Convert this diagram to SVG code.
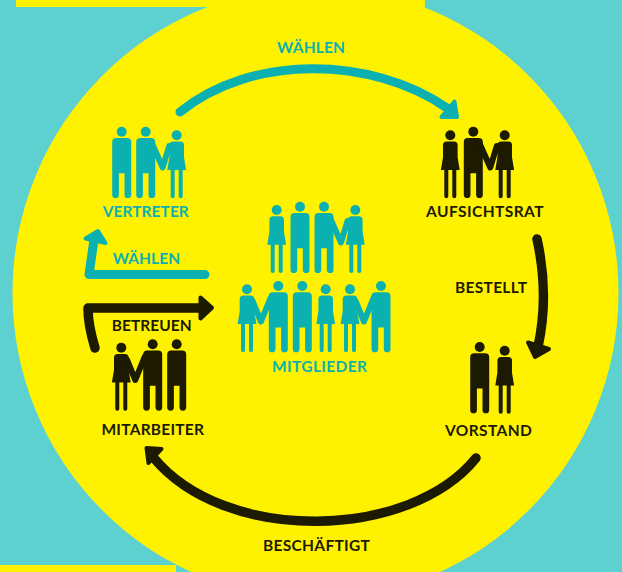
<svg xmlns="http://www.w3.org/2000/svg" xmlns:xlink="http://www.w3.org/1999/xlink" width="622" height="572" viewBox="0 0 622 572">
<style>
.t{fill:#0bb1b1}.d{fill:#1c1a00}
text{font-family:"Lato","Liberation Sans",sans-serif;font-weight:700;font-size:15.5px;text-anchor:middle}
.ct{fill:none;stroke:#0bb1b1;stroke-width:9;stroke-linecap:round;stroke-linejoin:round}
.cd{fill:none;stroke:#1c1a00;stroke-width:9.500;stroke-linecap:round;stroke-linejoin:round}
.ht{fill:#0bb1b1;stroke:#0bb1b1;stroke-width:4;stroke-linejoin:round}
.hd{fill:#1c1a00;stroke:#1c1a00;stroke-width:4;stroke-linejoin:round}
</style>
<defs>
<g id="man"><circle cx="0" cy="0" r="5"/><path d="M-9.500 10.300a4 4 0 0 1 4-4h11a4 4 0 0 1 4 4V63a3.350 3.350 0 0 1-6.700 0V41.500h-5.600V63a3.350 3.350 0 0 1-6.700 0Z"/></g>
<g id="woman"><circle cx="0" cy="0" r="5"/><path d="M-7.300 10a3.700 3.700 0 0 1 3.700-3.700h7.200a3.700 3.700 0 0 1 3.700 3.700V22L9.400 34.700H6V61a2 2 0 0 1-4 0V34.700H-2V61a2 2 0 0 1-4 0V34.700H-9.400L-7.300 22Z"/></g>
<path id="armMW" d="M6.500 10L17 33.500L23.500 12" fill="none" stroke="currentColor" stroke-width="6" stroke-linecap="round" stroke-linejoin="round"/>
<path id="armWM" d="M5.500 13L14 33.500L23.500 10" fill="none" stroke="currentColor" stroke-width="6" stroke-linecap="round" stroke-linejoin="round"/>
</defs>
<rect id="background" width="622" height="572" fill="#5dd0d0"/>
<g id="disc" fill="#fff200"><rect x="16" y="0" width="409" height="7"/><rect x="0" y="565" width="176" height="7"/><ellipse cx="315.500" cy="293" rx="303" ry="306"/></g>

<g id="connectors">
<path class="ct" d="M180 112C250 55 370 55 447 108"/><path class="ht" d="M454.500 101.500L457 117L441.500 117Z"/>
<path class="cd" d="M537 239C545 275 546 310 538 347"/><path class="hd" d="M528 342.500L549 349L535 357Z"/>
<path class="cd" d="M476 458C410 540 225 545 153 457"/><path class="hd" d="M146.500 448L161.500 449L148.500 463Z"/>
<path class="cd" d="M95 348Q88 325 88 308H203"/><path class="hd" d="M200.500 297.500L212 307.700L200.500 318.500Z"/>
<path class="ct" d="M205 274.500H89L94 240"/><path class="ht" d="M98 231L85.500 238.500L105.500 243Z"/>
</g>

<g id="vertreter" class="t" color="#0bb1b1">
<use xlink:href="#man" href="#man" transform="translate(121.700 131.700)"/>
<use xlink:href="#man" href="#man" transform="translate(145.700 131.700)"/>
<use xlink:href="#armMW" href="#armMW" transform="translate(145.700 134)"/>
<use xlink:href="#woman" href="#woman" transform="translate(176.700 135.300)"/>
<text x="145.800" y="216.500" textLength="86">VERTRETER</text>
</g>
<g id="aufsichtsrat" class="d" color="#1c1a00">
<use xlink:href="#woman" href="#woman" transform="translate(450.300 135.300)"/>
<use xlink:href="#man" href="#man" transform="translate(473.300 131.700)"/>
<use xlink:href="#armMW" href="#armMW" transform="translate(473.300 134)"/>
<use xlink:href="#woman" href="#woman" transform="translate(504.700 135.300)"/>
<text x="484.800" y="216.500" textLength="117.500">AUFSICHTSRAT</text>
</g>
<g id="vorstand" class="d">
<use xlink:href="#man" href="#man" transform="translate(479.700 347)"/>
<use xlink:href="#woman" href="#woman" transform="translate(504.700 350.700)"/>
<text x="488.400" y="435.500" textLength="87">VORSTAND</text>
</g>
<g id="mitarbeiter" class="d" color="#1c1a00">
<use xlink:href="#woman" href="#woman" transform="translate(121.300 347.700)"/>
<use xlink:href="#armWM" href="#armWM" transform="translate(121.300 346.500)"/>
<use xlink:href="#man" href="#man" transform="translate(152.700 344.300)"/>
<use xlink:href="#man" href="#man" transform="translate(176.700 344.300)"/>
<text x="152.700" y="435" textLength="102.500">MITARBEITER</text>
</g>
<g id="mitglieder" class="t" color="#0bb1b1">
<use xlink:href="#woman" href="#woman" transform="translate(276.700 210)"/>
<use xlink:href="#man" href="#man" transform="translate(300 206.700)"/>
<use xlink:href="#man" href="#man" transform="translate(324 206.700)"/>
<use xlink:href="#armMW" href="#armMW" transform="translate(324 209)"/>
<use xlink:href="#woman" href="#woman" transform="translate(355.300 210)"/>
<use xlink:href="#woman" href="#woman" transform="translate(247 289.300)"/>
<use xlink:href="#armWM" href="#armWM" transform="translate(247 288)"/>
<use xlink:href="#man" href="#man" transform="translate(278.300 286)"/>
<use xlink:href="#man" href="#man" transform="translate(302.300 286)"/>
<use xlink:href="#woman" href="#woman" transform="translate(325.700 289.300)"/>
<use xlink:href="#woman" href="#woman" transform="translate(350 289.300)"/>
<use xlink:href="#armWM" href="#armWM" transform="translate(350 288)"/>
<use xlink:href="#man" href="#man" transform="translate(381 286)"/>
<text x="319.500" y="372" textLength="95">MITGLIEDER</text>
</g>
<g id="labels">
<text class="t" x="311" y="53.300" textLength="68">WÄHLEN</text>
<text class="t" x="146.400" y="264" textLength="67.500">WÄHLEN</text>
<text class="d" x="151.700" y="331" textLength="80">BETREUEN</text>
<text class="d" x="491" y="293" textLength="72">BESTELLT</text>
<text class="d" x="316.400" y="551" textLength="107">BESCHÄFTIGT</text>
</g>
</svg>
